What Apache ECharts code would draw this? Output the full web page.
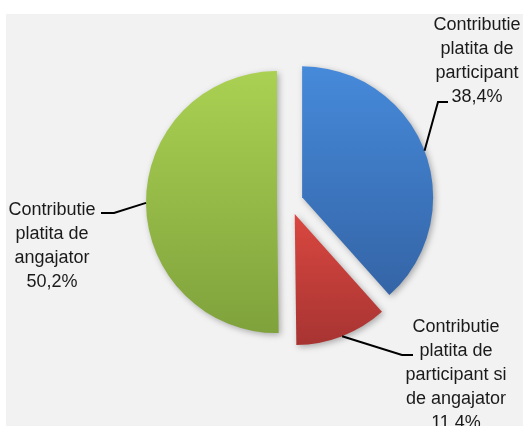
<!DOCTYPE html>
<html>
<head>
<meta charset="utf-8">
<script src="https://cdn.jsdelivr.net/npm/echarts@6/dist/echarts.min.js"></script>
<style>
html,body{margin:0;padding:0;background:#fff;}
#chart{width:523px;height:426px;}
</style>
</head>
<body>
<div id="chart"></div>
<script>
// date contributii
var categories = ['Contributie\nplatita de\nparticipant', 'Contributie\nplatita de\nparticipant si\nde angajator', 'Contributie\nplatita de\nangajator'];
var values = [38.4, 11.4, 50.2];
var colorsTop = ['#468ada', '#da4740', '#aad152'];
var colorsBottom = ['#3464a6', '#a73432', '#7fa23c'];

// pozitia etichetelor (x centru, y sus) si cotul liniei
var labelPos = [[477, 13], [456, 315], [52, 198]];
var labelElbow = [[[438, 102], [448, 102]], [[402, 355], [413, 355]], [[114, 213], [101, 213]]];

var pieCenter = [290, 202];
var pieRadius = 131;
var explode = 13;

//felii colorate
function getSeriesData() {
	var arr = [];
	for (var i = 0; i < values.length; i++) {
		arr.push({
			name: categories[i],
			value: values[i],
			selected: true,
			itemStyle: {
				color: new echarts.graphic.LinearGradient(0, 0, 0, 1, [
					{offset: 0, color: colorsTop[i]},
					{offset: 1, color: colorsBottom[i]}
				])
			}
		});
	}
	return arr;
}

//doar pentru etichete
function getLabelData() {
	var arr = [];
	for (var i = 0; i < values.length; i++) {
		arr.push({name: categories[i], value: values[i]});
	}
	return arr;
}

var myChart = echarts.init(document.getElementById('chart'));
var option = {
	backgroundColor: '#ffffff',
	animation: false,
	graphic: [{
		type: 'rect',
		z: -10,
		shape: {x: 6, y: 14, width: 517, height: 412},
		style: {fill: '#f2f2f2'}
	}],
	series: [{
		type: 'pie',
		center: pieCenter,
		radius: pieRadius,
		startAngle: 90,
		clockwise: true,
		selectedMode: 'multiple',
		selectedOffset: explode,
		silent: true,
		data: getSeriesData(),
		itemStyle: {
			shadowBlur: 6,
			shadowOffsetX: 2,
			shadowOffsetY: 2,
			shadowColor: 'rgba(0,0,0,0.3)'
		},
		label: {show: false},
		labelLine: {show: false}
	}, {
		type: 'pie',
		center: pieCenter,
		radius: pieRadius,
		startAngle: 90,
		clockwise: true,
		silent: true,
		z: 5,
		avoidLabelOverlap: false,
		data: getLabelData(),
		itemStyle: {color: 'rgba(0,0,0,0)'},
		label: {
			show: true,
			position: 'outside',
			color: '#1a1a1a',
			fontFamily: 'Liberation Sans, Arial, sans-serif',
			fontSize: 18,
			lineHeight: 24,
			align: 'center',
			formatter: function (p) {
				return p.name + '\n' + p.percent.toFixed(1).replace('.', ',') + '%';
			}
		},
		labelLine: {
			show: true,
			length: 10,
			length2: 10,
			lineStyle: {color: '#000', width: 2}
		},
		labelLayout: function (params) {
			var i = params.dataIndex;
			var pts = params.labelLinePoints;
			var res = {
				x: labelPos[i][0],
				y: labelPos[i][1],
				align: 'center',
				verticalAlign: 'top'
			};
			if (pts) {
				// punctul de pe margine, mutat cu felia scoasa
				var dx = pts[0][0] - pieCenter[0];
				var dy = pts[0][1] - pieCenter[1];
				var len = Math.sqrt(dx * dx + dy * dy) || 1;
				var p0 = [pts[0][0] + dx / len * explode, pts[0][1] + dy / len * explode];
				res.labelLinePoints = [p0, labelElbow[i][0], labelElbow[i][1]];
			}
			return res;
		}
	}]
};
myChart.setOption(option);
</script>
</body>
</html>
